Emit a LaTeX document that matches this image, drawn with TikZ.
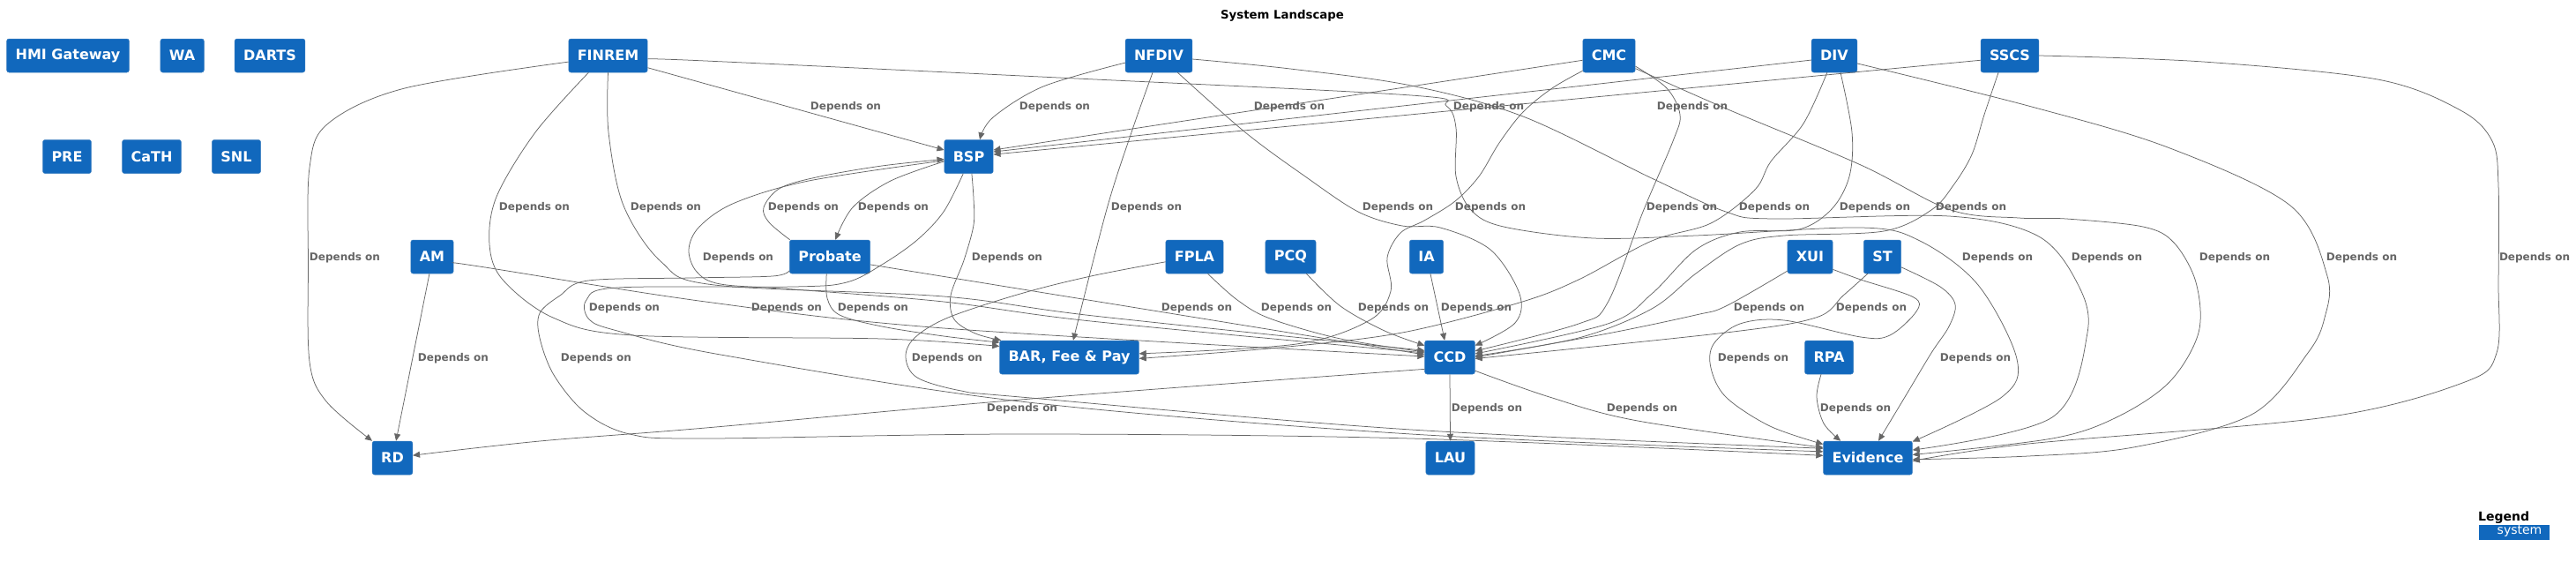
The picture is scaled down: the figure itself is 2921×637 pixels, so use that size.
\documentclass[tikz,border=0pt]{standalone}
\usepackage{fontspec}
\setmainfont{DejaVu Sans}
\usetikzlibrary{arrows.meta}
\definecolor{sysblue}{HTML}{1168BD}
\definecolor{sysborder}{HTML}{3C7FC0}
\definecolor{edgegray}{HTML}{666666}
\tikzset{
  sys/.style={fill=sysblue, draw=sysborder, line width=0.5pt, rounded corners=2.5pt, text=white,
    font=\fontsize{16}{19}\selectfont\bfseries, minimum height=38pt, inner xsep=10pt, inner ysep=0pt},
  rel/.style={draw=edgegray, line width=0.75pt, -{Triangle[length=8pt,width=7pt]}},
  lbl/.style={text=edgegray, font=\fontsize{12}{14}\selectfont\bfseries, inner sep=0pt},
  sm/.style={smooth, tension=0.55}
}
\begin{document}
\begin{tikzpicture}[x=1pt,y=-1pt]
\useasboundingbox[fill=white] (0,0) rectangle (2921,637);

\node[font=\fontsize{13.3}{16}\selectfont\bfseries, inner sep=0pt] (title) at (1454,18) {System Landscape};

% systems
\node[sys] (hmi) at (77,63) {HMI Gateway};
\node[sys] (wa) at (206.6,63) {WA};
\node[sys] (darts) at (306,63) {DARTS};
\node[sys] (finrem) at (689.5,63) {FINREM};
\node[sys] (nfdiv) at (1314,63) {NFDIV};
\node[sys] (cmc) at (1824.5,63) {CMC};
\node[sys] (div) at (2080,63) {DIV};
\node[sys] (sscs) at (2279,63) {SSCS};
\node[sys] (pre) at (76,177.5) {PRE};
\node[sys] (cath) at (172,177.5) {CaTH};
\node[sys] (snl) at (268,177.5) {SNL};
\node[sys] (bsp) at (1098.5,177.5) {BSP};
\node[sys] (am) at (490,291) {AM};
\node[sys] (probate) at (941,291) {Probate};
\node[sys] (fpla) at (1354.5,291) {FPLA};
\node[sys] (pcq) at (1463.5,291) {PCQ};
\node[sys] (ia) at (1617.5,291) {IA};
\node[sys] (xui) at (2052.5,291) {XUI};
\node[sys] (st) at (2134.5,291) {ST};
\node[sys] (bar) at (1212.5,405) {BAR, Fee \& Pay};
\node[sys] (ccd) at (1644,405) {CCD};
\node[sys] (rpa) at (2074,405) {RPA};
\node[sys] (rd) at (445,519) {RD};
\node[sys] (lau) at (1644.5,519) {LAU};
\node[sys] (evidence) at (2118,519) {Evidence};

% FINREM
\draw[rel] (finrem.-17) -- (bsp.165);
\draw[rel] plot[sm] coordinates {(finrem.189) (459,100) (372,140) (351,190) (349.5,300) (351,410) (370,455) (rd.140)};
\draw[rel] plot[sm] coordinates {(finrem.221) (607,150) (563,223) (555,277) (570,317) (627,360) (717,380) (1000,384) (bar.171)};
\draw[rel] plot[sm] coordinates {(finrem.south) (690,150) (707,233) (750,297) (810,323) (1070,336) (1240,358) (ccd.165)};
\draw[rel] plot[sm] coordinates {(finrem.-5) (800,69) (1200,88) (1600,108) (1640,120) (1651,145) (1651,200) (1668,238) (1705,257) (1807,270) (1923,267) (2110,258) (2177,273) (2243,323) (2287,407) (2270,450) (evidence.20)};

% NFDIV
\draw[rel] plot[sm] coordinates {(nfdiv.192) (1183,98) (1126,133) (bsp.57)};
\draw[rel] plot[sm] coordinates {(nfdiv.250) (1283,150) (1255,237) (bar.77)};
\draw[rel] plot[sm] coordinates {(nfdiv.-42) (1412,150) (1480,200) (1540,240) (1590,256) (1633,258) (1690,283) (1723,333) (1718,366) (ccd.25)};
\draw[rel] plot[sm] coordinates {(nfdiv.-6) (1463,78) (1600,97) (1727,132) (1875,203) (1957,240) (2010,248) (2210,245) (2310,267) (2355,320) (2367,377) (2327,473) (evidence.10)};

% CMC
\draw[rel] (cmc.190) -- (bsp.15);
\draw[rel] plot[sm] coordinates {(cmc.210) (1760,100) (1727,127) (1700,162) (1677,200) (1650,228) (1615,250) (1588,264) (1573,292) (1577,330) (1553,363) (1470,390) (bar.3)};
\draw[rel] plot[sm] coordinates {(cmc.-22) (1890,100) (1905,130) (1897,160) (1863,240) (1823,343) (1790,367) (ccd.14)};
\draw[rel] plot[sm] coordinates {(cmc.-26) (1957,123) (2110,187) (2212,238) (2289,247) (2343,248) (2430,257) (2465,275) (2490,320) (2493,377) (2460,433) (2400,473) (2327,497) (evidence.4)};

% DIV
\draw[rel] (div.191) -- (bsp.11);
\draw[rel] plot[sm] coordinates {(div.247) (2045,140) (2008,183) (1990,215) (1940,253) (1873,273) (1790,317) (1723,343) (1590,377) (1450,394) (bar.-1)};
\draw[rel] plot[sm] coordinates {(div.-70) (2100,150) (2097,200) (2077,237) (2040,260) (1973,263) (1923,283) (1873,333) (1823,367) (ccd.8)};
\draw[rel] plot[sm] coordinates {(div.-19) (2300,120) (2458,167) (2597,233) (2639,313) (2636,360) (2617,400) (2553,470) (2419,507) (2300,517) (evidence.-2)};

% SSCS
\draw[rel] (sscs.189) -- (bsp.5);
\draw[rel] plot[sm] coordinates {(sscs.236) (2250,130) (2236,175) (2215,210) (2190,238) (2136,262) (2023,267) (1973,277) (1923,310) (1873,350) (1790,383) (ccd.3)};
\draw[rel] plot[sm] coordinates {(sscs.0) (2498,70) (2696,90) (2790,125) (2826,160) (2833,210) (2833,320) (2831,400) (2795,433) (2637,473) (2300,503) (evidence.-4)};

% BSP
\draw[rel] plot[sm] coordinates {(bsp.191) (1010,205) (967,235) (probate.72)};
\draw[rel] plot[sm] coordinates {(bsp.-80) (1104,225) (1104,255) (1093,295) (1078,335) (1082,362) (1106,378) (bar.166)};
\draw[rel] plot[sm] coordinates {(bsp.189) (917,205) (833,230) (793,257) (781,283) (790,308) (817,322) (900,328) (1070,342) (1237,364) (ccd.170)};
\draw[rel] plot[sm] coordinates {(bsp.252) (1070,240) (1040,272) (1000,300) (960,320) (900,325) (700,326) (665,340) (668,362) (700,375) (817,402) (1157,455) (1600,492) (evidence.172)};

% Probate
\draw[rel] plot[sm] coordinates {(probate.157) (872,252) (866,235) (885,213) (930,200) (1000,188) (bsp.186)};
\draw[rel] plot[sm] coordinates {(probate.199) (876,313) (783,315) (667,318) (635,335) (612,355) (612,383) (628,425) (663,467) (714,492) (800,497) (1157,492) (1600,497) (evidence.177)};
\draw[rel] plot[sm] coordinates {(probate.259) (938,338) (952,357) (1000,370) (1070,381) (bar.168)};
\draw[rel] (probate.-11) -- (ccd.174);

% AM
\draw[rel] (am.261) -- (rd.78);
\draw[rel] plot[sm] coordinates {(am.-16) (550,303) (800,342) (1070,372) (ccd.178)};

% FPLA, PCQ, IA
\draw[rel] plot[sm] coordinates {(fpla.-52) (1403,340) (1440,361) (1520,384) (ccd.168)};
\draw[rel] plot[sm] coordinates {(fpla.190) (1237,313) (1157,333) (1075,360) (1037,383) (1027,405) (1040,428) (1090,443) (1157,450) (1600,487) (evidence.168)};
\draw[rel] plot[sm] coordinates {(pcq.-47) (1520,347) (1570,375) (ccd.155)};
\draw[rel] (ia.-77) -- (ccd.107);

% XUI, ST, RPA
\draw[rel] plot[sm] coordinates {(xui.212) (1957,347) (1923,357) (1823,378) (ccd.0)};
\draw[rel] plot[sm] coordinates {(xui.-29) (2110,317) (2170,337) (2173,353) (2143,380) (2110,382) (2023,363) (1973,367) (1943,390) (1940,417) (1957,450) (2007,483) (evidence.163)};
\draw[rel] plot[sm] coordinates {(st.229) (2090,335) (2059,360) (1957,377) (ccd.-3)};
\draw[rel] plot[sm] coordinates {(st.-29) (2200,325) (2217,345) (2210,370) (2190,400) (2160,450) (evidence.58)};
\draw[rel] plot[sm] coordinates {(rpa.245) (2060,450) (2068,480) (evidence.148)};

% CCD
\draw[rel] plot[sm] coordinates {(ccd.205) (1157,453) (800,485) (612,500) (rd.7)};
\draw[rel] (ccd.south) -- (lau.north);
\draw[rel] plot[sm] coordinates {(ccd.-28) (1757,450) (1857,477) (evidence.167)};

% labels
\node[lbl] (l1) at (959,121) {Depends on};
\node[lbl] (l2) at (1196,121) {Depends on};
\node[lbl] (l3) at (1462,121) {Depends on};
\node[lbl] (l4) at (1688,121) {Depends on};
\node[lbl] (l5) at (1919,121) {Depends on};
\node[lbl] (l6) at (606,235) {Depends on};
\node[lbl] (l7) at (755,235) {Depends on};
\node[lbl] (l8) at (911,235) {Depends on};
\node[lbl] (l9) at (1013,235) {Depends on};
\node[lbl] (l10) at (1300,235) {Depends on};
\node[lbl] (l11) at (1585,235) {Depends on};
\node[lbl] (l12) at (1690,235) {Depends on};
\node[lbl] (l13) at (1907,235) {Depends on};
\node[lbl] (l14) at (2012,235) {Depends on};
\node[lbl] (l15) at (2126,235) {Depends on};
\node[lbl] (l16) at (2235,235) {Depends on};
\node[lbl] (l17) at (391,292) {Depends on};
\node[lbl] (l18) at (837,292) {Depends on};
\node[lbl] (l19) at (1142,292) {Depends on};
\node[lbl] (l20) at (2265,292) {Depends on};
\node[lbl] (l21) at (2389,292) {Depends on};
\node[lbl] (l22) at (2534,292) {Depends on};
\node[lbl] (l23) at (2678,292) {Depends on};
\node[lbl] (l24) at (2874,292) {Depends on};
\node[lbl] (l25) at (708,349) {Depends on};
\node[lbl] (l26) at (892,349) {Depends on};
\node[lbl] (l27) at (990,349) {Depends on};
\node[lbl] (l28) at (1357,349) {Depends on};
\node[lbl] (l29) at (1470,349) {Depends on};
\node[lbl] (l30) at (1580,349) {Depends on};
\node[lbl] (l31) at (1674,349) {Depends on};
\node[lbl] (l32) at (2006,349) {Depends on};
\node[lbl] (l33) at (2122,349) {Depends on};
\node[lbl] (l34) at (514,406) {Depends on};
\node[lbl] (l35) at (676,406) {Depends on};
\node[lbl] (l36) at (1074,406) {Depends on};
\node[lbl] (l37) at (1988,406) {Depends on};
\node[lbl] (l38) at (2240,406) {Depends on};
\node[lbl] (l39) at (1159,463) {Depends on};
\node[lbl] (l40) at (1686,463) {Depends on};
\node[lbl] (l41) at (1862,463) {Depends on};
\node[lbl] (l42) at (2104,463) {Depends on};

% legend
\node[anchor=west, font=\fontsize{14}{16}\selectfont\bfseries, inner sep=0pt] (legend) at (2810,587) {Legend};
\node[fill=sysblue, minimum width=80pt, minimum height=17pt, inner sep=0pt] (legbox) at (2851,603.5) {};
\node[text=white, font=\fontsize{14}{16}\selectfont, inner sep=0pt] (legtext) at (2857,602.5) {system};
\end{tikzpicture}
\end{document}
